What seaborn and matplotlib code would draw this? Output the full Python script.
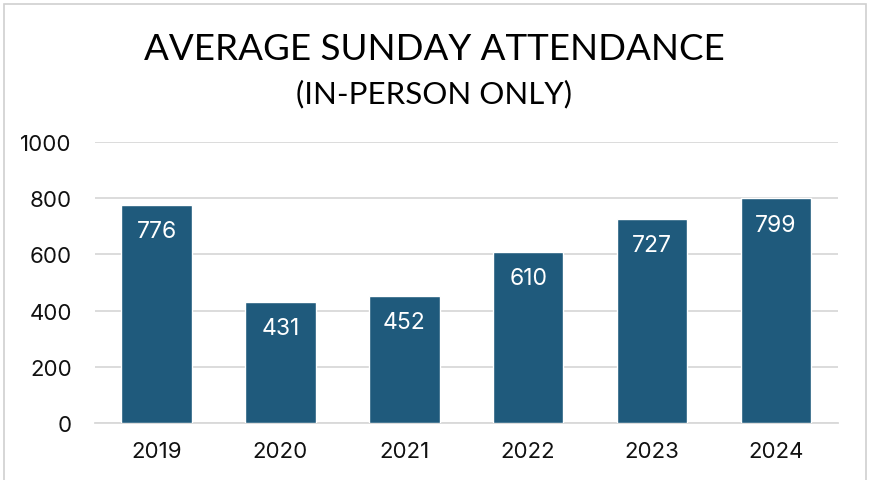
import matplotlib
matplotlib.use("Agg")
import matplotlib.pyplot as plt
import seaborn as sns
import pandas as pd

# data
years = ["2019", "2020", "2021", "2022", "2023", "2024"]
attendance = [776, 431, 452, 610, 727, 799]
y_ticks = [0, 200, 400, 600, 800, 1000]

BAR = "#1F5A7C"
GRID = "#D9D9D9"

sns.set_theme(style="white")
plt.rcParams["font.family"] = ["Inter", "DejaVu Sans"]

df = pd.DataFrame({"year": years, "attendance": attendance})

fig = plt.figure(figsize=(8.69, 4.81), dpi=100)
ax = fig.add_axes([0.109, 0.1185, 0.855, 0.5845])

sns.barplot(data=df, x="year", y="attendance", color=BAR, saturation=1,
            width=0.57, ax=ax, zorder=3)

ax.set_ylim(0, 1000)
ax.set_yticks(y_ticks)
ax.set_yticklabels([str(t) for t in y_ticks])
ax.yaxis.grid(True, color=GRID, linewidth=1.3, zorder=0)
ax.set_axisbelow(True)
for s in ["top", "right", "left"]:
    ax.spines[s].set_visible(False)
ax.spines["bottom"].set_color(GRID)
ax.spines["bottom"].set_linewidth(1.3)
ax.set_xlabel("")
ax.set_ylabel("")
ax.tick_params(axis="both", length=0, labelsize=16, colors="#111111")
ax.tick_params(axis="x", pad=13)
ax.tick_params(axis="y", pad=16.5)
ax.set_xlim(-0.5, len(years) - 0.5)

# value labels inside the bars, near the top
for i, v in enumerate(attendance):
    ax.annotate(str(v), (i, v), xytext=(0, -19), textcoords="offset points",
                ha="center", va="center", color="white", fontsize=16.5, zorder=4)

fig.text(0.5, 0.897, "AVERAGE SUNDAY ATTENDANCE", ha="center", va="center",
         fontsize=26.5, family="Lato", color="black")
fig.text(0.5, 0.805, "(IN-PERSON ONLY)", ha="center", va="center",
         fontsize=22.5, family="Lato", color="black")

# thin light frame around the chart like the source
frame = plt.Rectangle((0.005, -0.05), 0.991, 1.04, transform=fig.transFigure,
                      fill=False, edgecolor="#D0D0D0", linewidth=1.2)
fig.patches.append(frame)

fig.savefig("out.png", dpi=100)
